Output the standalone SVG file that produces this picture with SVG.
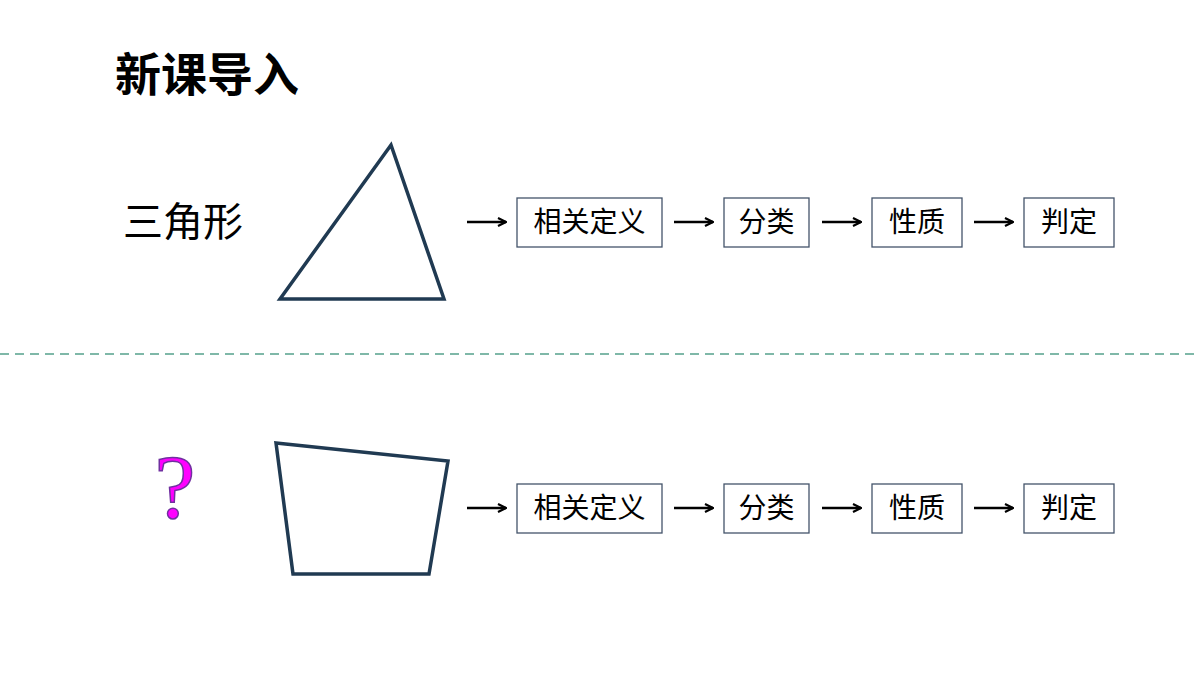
<svg xmlns="http://www.w3.org/2000/svg" width="1200" height="675" viewBox="0 0 1200 675">
<defs>
<marker id="ah" markerWidth="10" markerHeight="10" refX="9" refY="5" orient="auto" markerUnits="userSpaceOnUse"><path d="M1,1 L9,5 L1,9" fill="none" stroke="#000" stroke-width="2.2"/></marker>
<style>
.box{fill:#fff;stroke:#44546a;stroke-width:1.3}
.bt{font-family:"Noto Sans CJK SC",sans-serif;font-size:28px;text-anchor:middle;fill:#000}
.ar{stroke:#000;stroke-width:2.5;marker-end:url(#ah)}
.sh{fill:none;stroke:#203a52;stroke-width:3.5}
</style>
</defs>
<rect width="1200" height="675" fill="#fff"/>
<text x="115" y="91" font-family="'Noto Sans CJK SC',sans-serif" font-size="46" font-weight="bold">新课导入</text>
<text x="123" y="236" font-family="'Noto Sans CJK SC',sans-serif" font-size="40">三角形</text>
<text x="175" y="518" font-family="'Liberation Serif',serif" font-size="92" fill="#ff00ff" stroke="#7030a0" stroke-width="1.5" text-anchor="middle">?</text>
<line x1="0" y1="354" x2="1200" y2="354" stroke="#7fb8a8" stroke-width="2" stroke-dasharray="9,6"/>
<g id="triangle"><polygon class="sh" points="391,145 280,299 444,299"/></g>
<g id="quad"><polygon class="sh" points="276,443 448,461 429,574 293,574"/></g>
<g id="connectors">
<line class="ar" x1="467" y1="222" x2="506" y2="222"/>
<line class="ar" x1="674" y1="222" x2="713" y2="222"/>
<line class="ar" x1="822" y1="222" x2="861" y2="222"/>
<line class="ar" x1="974" y1="222" x2="1013" y2="222"/>
<line class="ar" x1="467" y1="508" x2="506" y2="508"/>
<line class="ar" x1="674" y1="508" x2="713" y2="508"/>
<line class="ar" x1="822" y1="508" x2="861" y2="508"/>
<line class="ar" x1="974" y1="508" x2="1013" y2="508"/>
</g>
<g id="n1"><rect class="box" x="517" y="198" width="145" height="49"/><text class="bt" x="589.5" y="232">相关定义</text></g>
<g id="n2"><rect class="box" x="724" y="198" width="85" height="49"/><text class="bt" x="766.5" y="232">分类</text></g>
<g id="n3"><rect class="box" x="872" y="198" width="90" height="49"/><text class="bt" x="917" y="232">性质</text></g>
<g id="n4"><rect class="box" x="1024" y="198" width="90" height="49"/><text class="bt" x="1069" y="232">判定</text></g>
<g id="m1"><rect class="box" x="517" y="484" width="145" height="49"/><text class="bt" x="589.5" y="518">相关定义</text></g>
<g id="m2"><rect class="box" x="724" y="484" width="85" height="49"/><text class="bt" x="766.5" y="518">分类</text></g>
<g id="m3"><rect class="box" x="872" y="484" width="90" height="49"/><text class="bt" x="917" y="518">性质</text></g>
<g id="m4"><rect class="box" x="1024" y="484" width="90" height="49"/><text class="bt" x="1069" y="518">判定</text></g>
</svg>
